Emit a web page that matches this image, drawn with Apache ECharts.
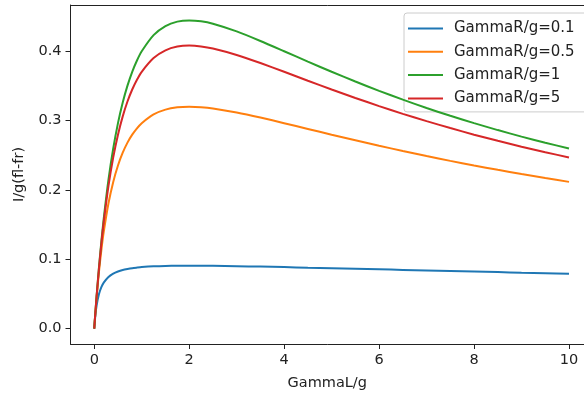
<!DOCTYPE html>
<html><head><meta charset="utf-8">
<script src="https://cdn.jsdelivr.net/npm/echarts@6/dist/echarts.min.js"></script>
<style>html,body{margin:0;padding:0;background:#fff}#c{width:584px;height:396px}</style>
</head><body><div id="c"></div>
<script>
var xs = [0, 0.02, 0.05, 0.1, 0.15, 0.2, 0.3, 0.4, 0.5, 0.6, 0.7, 0.8, 0.9, 1, 1.25, 1.5, 1.75, 2, 2.25, 2.5, 3, 3.5, 4, 4.5, 5, 5.5, 6, 6.5, 7, 7.5, 8, 8.5, 9, 9.5, 10];
var seriesNames = ['GammaR/g=0.1', 'GammaR/g=0.5', 'GammaR/g=1', 'GammaR/g=5'];
var r01 = [0, 0.0167, 0.0333, 0.0499, 0.0598, 0.0663, 0.0744, 0.0792, 0.0823, 0.0845, 0.0860, 0.0872, 0.0880, 0.0887, 0.0898, 0.0904, 0.0906, 0.0907, 0.0907, 0.0905, 0.0900, 0.0894, 0.0887, 0.0879, 0.0872, 0.0863, 0.0855, 0.0847, 0.0839, 0.0831, 0.0823, 0.0815, 0.0807, 0.0800, 0.0792];
var r05 = [0, 0.0192, 0.0452, 0.0823, 0.1133, 0.1394, 0.1807, 0.2116, 0.2353, 0.2537, 0.2682, 0.2797, 0.2889, 0.2963, 0.3089, 0.3158, 0.3191, 0.3200, 0.3193, 0.3175, 0.3117, 0.3044, 0.2963, 0.2880, 0.2797, 0.2716, 0.2637, 0.2562, 0.2489, 0.2419, 0.2353, 0.2290, 0.2229, 0.2171, 0.2116];
var r1 = [0, 0.0195, 0.0470, 0.0887, 0.1257, 0.1587, 0.2147, 0.2597, 0.2963, 0.3261, 0.3504, 0.3704, 0.3867, 0.4000, 0.4233, 0.4364, 0.4427, 0.4444, 0.4431, 0.4396, 0.4286, 0.4148, 0.4000, 0.3850, 0.3704, 0.3563, 0.3429, 0.3302, 0.3182, 0.3069, 0.2963, 0.2863, 0.2769, 0.2681, 0.2597];
var r5 = [0, 0.0194, 0.0466, 0.0872, 0.1226, 0.1538, 0.2058, 0.2469, 0.2797, 0.3061, 0.3275, 0.3448, 0.3589, 0.3704, 0.3902, 0.4013, 0.4067, 0.4082, 0.4070, 0.4040, 0.3947, 0.3830, 0.3704, 0.3575, 0.3448, 0.3326, 0.3209, 0.3097, 0.2992, 0.2892, 0.2797, 0.2708, 0.2624, 0.2544, 0.2469];
var xTicks = [0, 2, 4, 6, 8, 10];
var yTicks = [0, 0.1, 0.2, 0.3, 0.4];
var colors = ['#1f77b4', '#ff7f0e', '#2ca02c', '#d62728'];

var allY = [r01, r05, r1, r5];
var font = 'DejaVu Sans';
var fs = 14.5;
var chart = echarts.init(document.getElementById('c'), null, {renderer: 'canvas'});
var series = allY.map(function (ys, i) {
  return {
    name: seriesNames[i], type: 'line', showSymbol: false, symbol: 'none',
    smooth: 0.25,
    lineStyle: {width: 2, color: colors[i]}, itemStyle: {color: colors[i]},
    data: xs.map(function (x, k) { return [x, ys[k]]; }),
    z: 2 + i
  };
});
chart.setOption({
  animation: false,
  color: colors,
  grid: {left: 70.5, right: 0, top: 5, bottom: 52, show: false},
  legend: {
    orient: 'vertical', left: 404, top: 13,
    data: seriesNames,
    icon: 'rect', itemWidth: 35, itemHeight: 2, itemGap: 8.3,
    padding: [8, 20, 6, 4],
    backgroundColor: 'rgba(255,255,255,0.85)', borderColor: '#cccccc', borderWidth: 1, borderRadius: 3,
    textStyle: {fontFamily: font, fontSize: 15, color: '#222', padding: [0, 0, 0, 6]}
  },
  xAxis: [{
    type: 'value', min: -0.5, max: 10.316,
    name: 'GammaL/g', nameLocation: 'middle', nameGap: 32,
    nameTextStyle: {fontFamily: font, fontSize: fs, color: '#222'},
    axisLine: {show: true, onZero: false, lineStyle: {color: '#222', width: 1}},
    axisTick: {show: true, inside: false, length: 5, lineStyle: {color: '#222'}, customValues: xTicks},
    axisLabel: {fontFamily: font, fontSize: fs, color: '#222', margin: 9, customValues: xTicks},
    splitLine: {show: false}
  }, {
    type: 'value', position: 'top', min: -0.5, max: 10.316,
    axisLine: {show: true, onZero: false, lineStyle: {color: '#222', width: 1}},
    axisTick: {show: false}, axisLabel: {show: false}, splitLine: {show: false}
  }],
  yAxis: {
    type: 'value', min: -0.0222, max: 0.4667,
    name: 'I/g(fl-fr)', nameLocation: 'middle', nameGap: 44, nameRotate: 90,
    nameTextStyle: {fontFamily: font, fontSize: fs, color: '#222'},
    axisLine: {show: true, onZero: false, lineStyle: {color: '#222', width: 1}},
    axisTick: {show: true, inside: false, length: 5, lineStyle: {color: '#222'}, customValues: yTicks},
    axisLabel: {fontFamily: font, fontSize: fs, color: '#222', margin: 9, customValues: yTicks,
      formatter: function (v) { return v.toFixed(1); }},
    splitLine: {show: false}
  },
  series: series
});
</script>
</body></html>
